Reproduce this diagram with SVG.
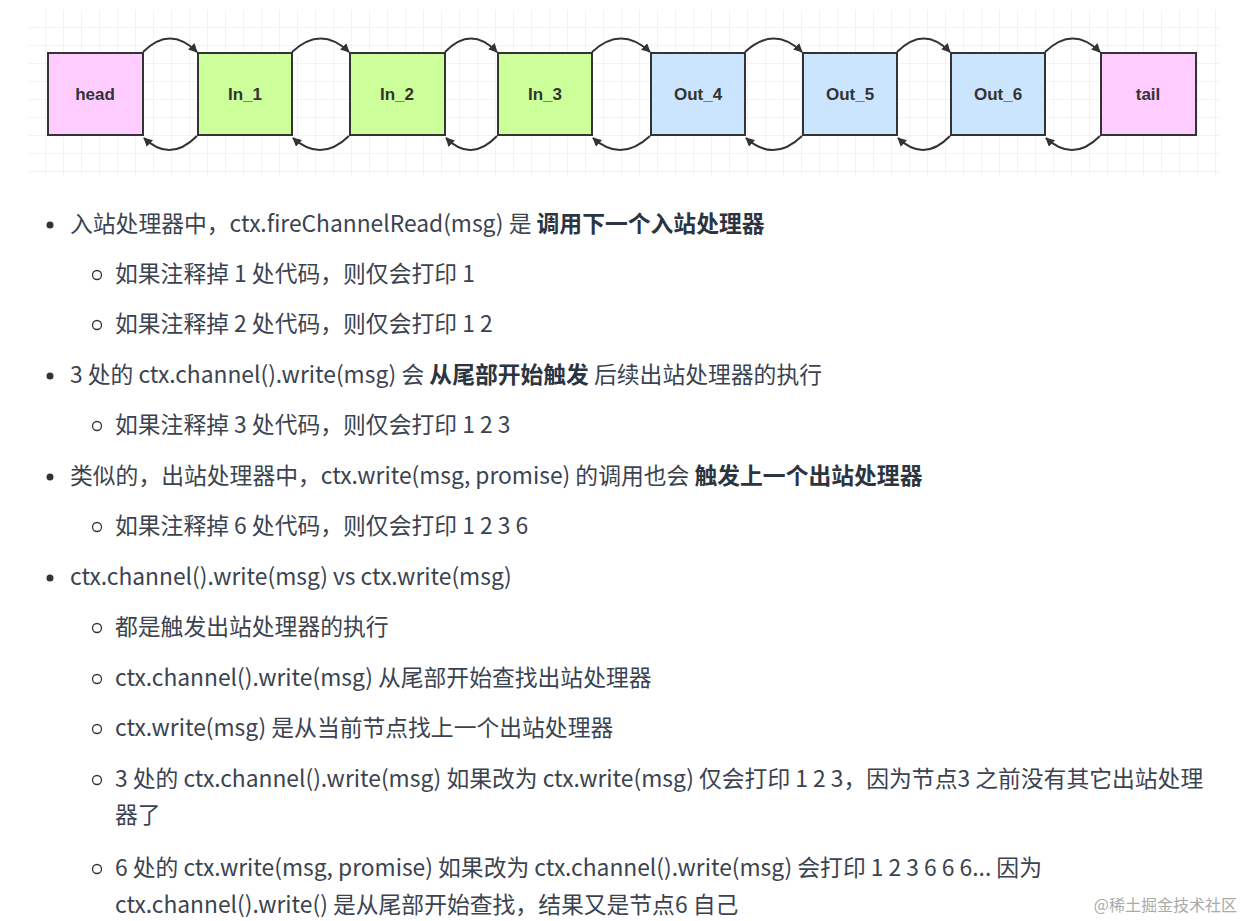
<svg xmlns="http://www.w3.org/2000/svg" width="1243" height="921" viewBox="0 0 1243 921">
<defs>
<pattern id="grid" width="18" height="18" patternUnits="userSpaceOnUse" x="28" y="10">
<path d="M18 0V18H0" fill="none" stroke="#e6e6e6" stroke-width="1"/>
</pattern>
<marker id="ah" viewBox="0 0 10 10" refX="9" refY="5" markerWidth="9" markerHeight="9" orient="auto" markerUnits="userSpaceOnUse"><path d="M0 0L10 5L0 10z" fill="#333"/></marker>
<style>
.n{stroke:#333;stroke-width:2}
.nt{font-family:"Liberation Sans",Arial,sans-serif;font-weight:bold;font-size:17px;fill:#333;text-anchor:middle}
.c{fill:none;stroke:#333;stroke-width:2;marker-end:url(#ah)}
.t{font-family:"Noto Sans CJK SC","Noto Sans",sans-serif;font-size:22.8px;fill:#3b4350}
.b{font-weight:bold;fill:#2c3440}
.d{fill:#333}
.o{fill:none;stroke:#333;stroke-width:1.3}
</style>
</defs>
<rect width="1243" height="921" fill="#fff"/>
<rect x="28" y="10" width="1192" height="165" fill="url(#grid)"/>
<g id="head"><rect class="n" x="48" y="53" width="95" height="82" fill="#ffccff"/><text class="nt" x="95" y="100">head</text></g>
<g id="in1"><rect class="n" x="198" y="53" width="94" height="82" fill="#ccff99"/><text class="nt" x="245" y="100">In_1</text></g>
<g id="in2"><rect class="n" x="350" y="53" width="95" height="82" fill="#ccff99"/><text class="nt" x="397" y="100">In_2</text></g>
<g id="in3"><rect class="n" x="498" y="53" width="94" height="82" fill="#ccff99"/><text class="nt" x="545" y="100">In_3</text></g>
<g id="out4"><rect class="n" x="651" y="53" width="94" height="82" fill="#cce5ff"/><text class="nt" x="698" y="100">Out_4</text></g>
<g id="out5"><rect class="n" x="803" y="53" width="94" height="82" fill="#cce5ff"/><text class="nt" x="850" y="100">Out_5</text></g>
<g id="out6"><rect class="n" x="951" y="53" width="94" height="82" fill="#cce5ff"/><text class="nt" x="998" y="100">Out_6</text></g>
<g id="tail"><rect class="n" x="1101" y="53" width="95" height="82" fill="#ffccff"/><text class="nt" x="1148" y="100">tail</text></g>
<g id="connectors">
<path class="c" d="M143 52Q170 25 197 52"/><path class="c" d="M197 136Q170 163 144 138"/>
<path class="c" d="M292 52Q321 25 349 52"/><path class="c" d="M349 136Q321 163 293 138"/>
<path class="c" d="M445 52Q471 25 497 52"/><path class="c" d="M497 136Q471 163 446 138"/>
<path class="c" d="M592 52Q621 25 650 52"/><path class="c" d="M650 136Q621 163 593 138"/>
<path class="c" d="M745 52Q774 25 802 52"/><path class="c" d="M802 136Q774 163 746 138"/>
<path class="c" d="M897 52Q924 25 950 52"/><path class="c" d="M950 136Q924 163 898 138"/>
<path class="c" d="M1045 52Q1073 25 1100 52"/><path class="c" d="M1100 136Q1073 163 1046 138"/>
</g>
<g id="text">
<circle class="d" cx="50" cy="225" r="3.5"/><text class="t" x="70" y="232">入站处理器中，ctx.fireChannelRead(msg) 是 <tspan class="b">调用下一个入站处理器</tspan></text>
<circle class="o" cx="97" cy="275" r="4.5"/><text class="t" x="115" y="282">如果注释掉 1 处代码，则仅会打印 1</text>
<circle class="o" cx="97" cy="325" r="4.5"/><text class="t" x="115" y="332">如果注释掉 2 处代码，则仅会打印 1 2</text>
<circle class="d" cx="50" cy="376" r="3.5"/><text class="t" x="70" y="383">3 处的 ctx.channel().write(msg) 会 <tspan class="b">从尾部开始触发</tspan> 后续出站处理器的执行</text>
<circle class="o" cx="97" cy="426" r="4.5"/><text class="t" x="115" y="433">如果注释掉 3 处代码，则仅会打印 1 2 3</text>
<circle class="d" cx="50" cy="477" r="3.5"/><text class="t" x="70" y="484">类似的，出站处理器中，ctx.write(msg, promise) 的调用也会 <tspan class="b">触发上一个出站处理器</tspan></text>
<circle class="o" cx="97" cy="527" r="4.5"/><text class="t" x="115" y="534">如果注释掉 6 处代码，则仅会打印 1 2 3 6</text>
<circle class="d" cx="50" cy="578" r="3.5"/><text class="t" x="70" y="585">ctx.channel().write(msg) vs ctx.write(msg)</text>
<circle class="o" cx="97" cy="628" r="4.5"/><text class="t" x="115" y="635">都是触发出站处理器的执行</text>
<circle class="o" cx="97" cy="679" r="4.5"/><text class="t" x="115" y="686">ctx.channel().write(msg) 从尾部开始查找出站处理器</text>
<circle class="o" cx="97" cy="729" r="4.5"/><text class="t" x="115" y="736">ctx.write(msg) 是从当前节点找上一个出站处理器</text>
<circle class="o" cx="97" cy="780" r="4.5"/><text class="t" x="115" y="787">3 处的 ctx.channel().write(msg) 如果改为 ctx.write(msg) 仅会打印 1 2 3，因为节点3 之前没有其它出站处理</text>
<text class="t" x="115" y="823">器了</text>
<circle class="o" cx="97" cy="869" r="4.5"/><text class="t" x="115" y="876">6 处的 ctx.write(msg, promise) 如果改为 ctx.channel().write(msg) 会打印 1 2 3 6 6 6... 因为</text>
<text class="t" x="115" y="913">ctx.channel().write() 是从尾部开始查找，结果又是节点6 自己</text>
<text x="1237" y="911" text-anchor="end" style="font-family:'Noto Sans CJK SC',sans-serif;font-size:16px;fill:#aaa">@稀土掘金技术社区</text>
</g>
</svg>
